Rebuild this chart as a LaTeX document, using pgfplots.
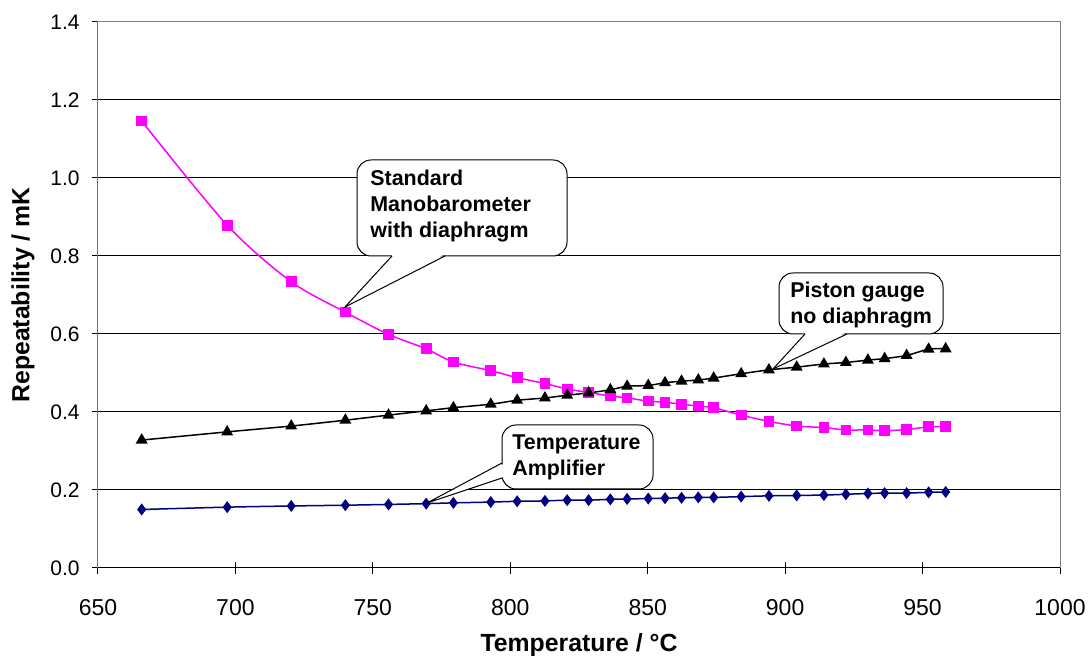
\documentclass[border=0pt]{standalone}
\usepackage{fontspec}
\setmainfont{Liberation Sans}
\usepackage{pgfplots}
\pgfplotsset{compat=1.18}
\definecolor{manopink}{RGB}{255,0,255}
\definecolor{ampnavy}{RGB}{0,0,128}
\newcommand{\fTy}{\fontsize{10.5}{12}\selectfont}
\newcommand{\fTx}{\fontsize{11.5}{13}\selectfont}
\newcommand{\fL}{\fontsize{12.4}{14}\selectfont\bfseries}
\newcommand{\fC}{\fontsize{10.7}{13}\selectfont\bfseries}

% ---------- data (temperature / degC, repeatability / mK) ----------
\pgfplotstableread{
T      r
665.9  1.146
697.0  0.879
720.3  0.734
740.0  0.656
755.7  0.599
769.4  0.562
779.3  0.528
792.9  0.506
802.5  0.488
812.6  0.473
820.7  0.459
828.5  0.450
836.4  0.441
842.5  0.436
850.2  0.428
856.3  0.425
862.3  0.420
868.4  0.415
874.0  0.411
884.0  0.392
894.1  0.376
904.2  0.364
914.1  0.360
922.1  0.354
930.1  0.354
936.2  0.352
944.2  0.355
952.2  0.362
958.4  0.362
}\manodata
\pgfplotstableread{
T      r
665.9  0.328
697.0  0.349
720.3  0.364
740.0  0.379
755.7  0.392
769.4  0.403
779.3  0.411
792.9  0.420
802.5  0.430
812.6  0.436
820.7  0.443
828.5  0.449
836.4  0.457
842.5  0.466
850.2  0.468
856.3  0.475
862.3  0.479
868.4  0.482
874.0  0.487
884.0  0.498
894.1  0.508
904.2  0.515
914.1  0.523
922.1  0.527
930.1  0.533
936.2  0.537
944.2  0.545
952.2  0.561
958.4  0.562
}\pistondata
\pgfplotstableread{
T      r
665.9  0.150
697.0  0.156
720.3  0.159
740.0  0.161
755.7  0.163
769.4  0.165
779.3  0.167
792.9  0.169
802.5  0.171
812.6  0.172
820.7  0.174
828.5  0.174
836.4  0.176
842.5  0.177
850.2  0.178
856.3  0.179
862.3  0.180
868.4  0.181
874.0  0.181
884.0  0.183
894.1  0.185
904.2  0.186
914.1  0.187
922.1  0.189
930.1  0.191
936.2  0.192
944.2  0.192
952.2  0.194
958.4  0.195
}\ampdata

\begin{document}
\begin{tikzpicture}
\begin{axis}[
  at={(0,0)}, anchor=south west,
  scale only axis, width=481pt, height=273pt,
  xmin=650, xmax=1000, ymin=0, ymax=1.4,
  xtick={650,700,750,800,850,900,950,1000},
  ytick={0,0.2,0.4,0.6,0.8,1.0,1.2,1.4},
  tick pos=left, tick align=center, major tick length=6pt,
  every tick/.style={black, line width=0.5pt},
  axis line style={draw=gray, line width=0.5pt},
  ymajorgrids, major grid style={black, line width=0.5pt},
  /pgf/number format/assume math mode=true,
  xticklabel style={font=\fTx, anchor=north, inner sep=0pt, yshift=-12.5pt,
    /pgf/number format/1000 sep={}},
  yticklabel style={font=\fTy, anchor=east, inner sep=0pt, xshift=-6pt,
    /pgf/number format/.cd, fixed, fixed zerofill, precision=1},
  xlabel={Temperature / °C}, ylabel={Repeatability / mK},
  xlabel style={font=\fL, anchor=north, inner sep=0pt,
    at={(axis description cs:0.5,-0.1195)}},
  ylabel style={font=\fL, anchor=south, inner sep=0pt,
    at={(axis description cs:-0.0655,0.5)}},
]
\addplot[manopink, line width=0.75pt, smooth, mark=square*,
  mark size=2.3pt, mark options={fill=manopink, draw=manopink}]
  table[x=T, y=r] {\manodata};
\addplot[black, line width=0.75pt, smooth, mark=triangle*,
  mark size=2.7pt, mark options={fill=black}]
  table[x=T, y=r] {\pistondata};
\addplot[ampnavy, line width=0.75pt, smooth, mark=diamond*,
  mark size=2.4pt, mark options={fill=ampnavy}]
  table[x=T, y=r] {\ampdata};
% left and bottom axis in black, the rest of the frame stays gray
\draw[black, line width=0.5pt] (rel axis cs:0,1) -- (rel axis cs:0,0) -- (rel axis cs:1,0);
\end{axis}

% ---------- callouts, in image pixels ----------
\begin{scope}[x=0.5pt, y=-0.5pt, shift={(-49pt,284pt)}]
  % Standard Manobarometer
  \draw[black, line width=0.5pt, fill=white, rounded corners=7pt] (357,160) rectangle (567,256);
  \fill[white] (393,254.5) -- (444,254.5) -- (345,307) -- cycle;
  \draw[black, line width=0.5pt] (392,256) -- (345,307) -- (445,256);
  \node[anchor=north west, inner sep=0pt, align=left, font=\fC] at (370,170)
    {Standard\\Manobarometer\\with diaphragm};
  % Piston gauge
  \draw[black, line width=0.5pt, fill=white, rounded corners=7pt] (779,273) rectangle (943,334);
  \fill[white] (806,332.5) -- (846,332.5) -- (773,369) -- cycle;
  \draw[black, line width=0.5pt] (805,334) -- (773,369) -- (847,334);
  \node[anchor=north west, inner sep=0pt, align=left, font=\fC] at (790,282)
    {Piston gauge\\no diaphragm};
  % Temperature amplifier
  \draw[black, line width=0.5pt, fill=white, rounded corners=7pt] (502,425) rectangle (653,489);
  \fill[white] (503.5,464) -- (503.5,477) -- (427,503) -- cycle;
  \draw[black, line width=0.5pt] (502,463) -- (427,503) -- (502,478);
  \node[anchor=north west, inner sep=0pt, align=left, font=\fC] at (512,434)
    {Temperature\\Amplifier};
\end{scope}

\pgfresetboundingbox
\begin{scope}[x=0.5pt, y=-0.5pt, shift={(-49pt,284pt)}]
  \path[use as bounding box] (0,0) rectangle (1092,656);
\end{scope}
\end{tikzpicture}
\end{document}
